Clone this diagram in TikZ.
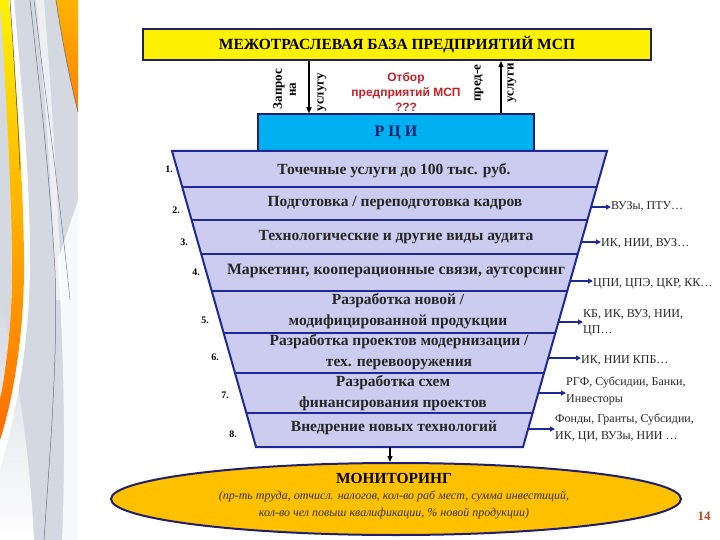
\documentclass[tikz,border=0pt]{standalone}
\usepackage{fontspec}
\setmainfont{Liberation Serif}
\newfontfamily\arialf{Liberation Sans}
\usetikzlibrary{arrows.meta,calc,shapes.geometric}
\definecolor{navy}{RGB}{32,30,110}
\definecolor{fnavy}{RGB}{30,40,150}
\definecolor{lav}{RGB}{204,204,240}
\definecolor{rciblue}{RGB}{0,176,240}
\definecolor{monor}{RGB}{255,192,0}
\definecolor{redt}{RGB}{200,30,40}
\definecolor{pgnum}{RGB}{185,75,30}
\definecolor{stripgray}{RGB}{212,216,224}
\definecolor{stripdark}{RGB}{110,115,125}
\tikzset{
  boxyellow/.style={draw=navy,line width=2pt,fill=yellow,minimum width=508pt,minimum height=31pt,inner sep=0pt},
  boxrci/.style={draw=navy,line width=1.5pt,fill=rciblue,minimum width=276pt,minimum height=37pt,inner sep=0pt},
  funnel/.style={draw=fnavy,line width=2pt,fill=lav},
  sep/.style={draw=fnavy,line width=2pt},
  rowtxt/.style={font=\fontsize{15.5}{20.5}\selectfont\bfseries,align=center,inner sep=0pt,text=black!85},
  numtxt/.style={font=\fontsize{10}{12}\selectfont\bfseries,inner sep=0pt},
  rlbl/.style={font=\fontsize{12}{16.5}\selectfont,anchor=west,align=left,inner sep=0pt,text=black!85},
  rarr/.style={draw=fnavy,line width=1.5pt,-{Triangle[length=5pt,width=5pt]}},
  varr/.style={draw=black,line width=1.2pt,-{Triangle[length=6pt,width=5pt]}},
  rot/.style={rotate=90,font=\fontsize{13}{14}\selectfont\bfseries,inner sep=0pt},
}
\begin{document}
\begin{tikzpicture}[x=1pt,y=-1pt]
\useasboundingbox (0,0) rectangle (720,540);
\fill[white] (0,0) rectangle (720,540);
% decorative strip
\fill[stripgray] (0,0) rectangle (78,540);
\shade[top color=stripgray, bottom color=white] (0,300) .. controls (20,380) and (30,460) .. (34,540) -- (0,540) -- cycle;
\fill[white,opacity=0.85] (58,260) .. controls (64,360) and (66,450) .. (62,540) -- (78,540) -- (78,200) -- cycle;
\fill[white,opacity=0.6] (36,0) .. controls (46,100) and (52,200) .. (56,300) -- (62,300) .. controls (58,200) and (52,100) .. (44,0) -- cycle;
\fill[white] (0,0) .. controls (8,90) and (12,180) .. (12,260) .. controls (12,330) and (6,380) .. (0,420) -- (0,470) .. controls (20,400) and (30,330) .. (30,260) .. controls (30,180) and (22,90) .. (14,0) -- cycle;
\shade[top color=yellow!90!orange, bottom color=orange!85!red] (0,0) .. controls (6,90) and (11,180) .. (12,255) .. controls (13,320) and (6,370) .. (0,400) -- (0,440) .. controls (16,390) and (25,320) .. (24,255) .. controls (23,180) and (17,90) .. (9,0) -- cycle;
\shade[top color=orange!60!yellow, bottom color=orange] (56,0) .. controls (62,40) and (70,80) .. (78,112) -- (78,0) -- cycle;
\draw[stripdark,line width=0.6pt] (56,0) .. controls (62,40) and (70,80) .. (78,112);
\draw[stripdark,line width=0.5pt] (30,0) .. controls (40,90) and (50,180) .. (55,270) .. controls (58,360) and (50,450) .. (44,540);
\draw[stripdark,line width=0.4pt] (34,0) .. controls (46,100) and (60,200) .. (70,300);
\draw[black!70,line width=0.5pt] (10,0) .. controls (14,60) and (18,120) .. (20,170);

% top box
\node[boxyellow] (base) at (397,44.5) {\fontsize{15.5}{17}\selectfont\bfseries МЕЖОТРАСЛЕВАЯ  БАЗА ПРЕДПРИЯТИЙ МСП};
% RCI
\node[boxrci] (rci) at (396,132.5) {\fontsize{16}{18}\selectfont\bfseries\color{navy} Р Ц И};
% vertical arrows
\coordinate (dA) at (309,0);
\coordinate (uA) at (501,0);
\draw[varr] (dA |- base.south) -- (dA |- rci.north);
\draw[varr] (uA |- rci.north) -- (uA |- base.south);
\node[rot] (zap) at (279,89) {Запрос};
\node[rot] (na) at (293,90) {на};
\node[rot] (usl1) at (322,92) {услугу};
\node[rot] (pred) at (479,83) {пред-е};
\node[rot] (usl2) at (512,83) {услуги};
\node[font=\arialf\fontsize{12}{15}\selectfont\bfseries,text=redt,align=center,inner sep=0pt] (otb) at (406,92) {Отбор\\предприятий МСП\\???};

% funnel
\coordinate (ftl) at (172,151);
\coordinate (ftr) at (607,151);
\coordinate (fbr) at (523,447);
\coordinate (fbl) at (256,447);
\path[funnel] (ftl) -- (ftr) -- (fbr) -- (fbl) -- cycle;
\draw[sep] (182.2,187) -- (596.8,187);
\draw[sep] (191.6,220) -- (587.4,220);
\draw[sep] (201.2,254) -- (577.8,254);
\draw[sep] (211.7,291) -- (567.3,291);
\draw[sep] (223.6,333) -- (555.4,333);
\draw[sep] (235.0,373) -- (544.0,373);
\draw[sep] (246.4,413) -- (532.6,413);

\node[rowtxt] (t1) at (394,171) {Точечные услуги до 100 тыс. руб.};
\node[rowtxt] (t2) at (395,203) {Подготовка / переподготовка кадров};
\node[rowtxt] (t3) at (396,237) {Технологические и другие виды аудита};
\node[rowtxt,font=\fontsize{15.8}{20.5}\selectfont\bfseries] (t4) at (396,271) {Маркетинг, кооперационные связи, аутсорсинг};
\node[rowtxt] (t5) at (398,311) {Разработка новой /\\модифицированной продукции};
\node[rowtxt] (t6) at (399,352) {Разработка проектов модернизации /\\тех. перевооружения};
\node[rowtxt] (t7) at (393,393) {Разработка схем\\финансирования проектов};
\node[rowtxt] (t8) at (394,428) {Внедрение новых технологий};

\node[numtxt] (n1) at (169,169) {1.};
\node[numtxt] (n2) at (176,210) {2.};
\node[numtxt] (n3) at (184,242) {3.};
\node[numtxt] (n4) at (196,272) {4.};
\node[numtxt] (n5) at (205,320) {5.};
\node[numtxt] (n6) at (215,357) {6.};
\node[numtxt] (n7) at (225,395) {7.};
\node[numtxt] (n8) at (233,434) {8.};

% right labels
\coordinate (e2) at (591.3,207);
\coordinate (e3) at (581.2,242);
\coordinate (e4) at (570.6,281);
\coordinate (e5) at (558.5,322);
\coordinate (e6) at (548.2,358);
\coordinate (e7) at (538.6,393);
\coordinate (e8) at (528.1,429);
\node[rlbl] (r2) at (611,206) {ВУЗы, ПТУ…};
\node[rlbl] (r3) at (601,243) {ИК, НИИ, ВУЗ…};
\node[rlbl] (r4) at (593,284) {ЦПИ, ЦПЭ, ЦКР, КК…};
\node[rlbl] (r5) at (583,323) {КБ, ИК, ВУЗ, НИИ,\\ЦП…};
\node[rlbl] (r6) at (581,360) {ИК, НИИ КПБ…};
\node[rlbl] (r7) at (566,391) {РГФ, Субсидии, Банки,\\Инвесторы};
\node[rlbl] (r8) at (555,428) {Фонды, Гранты, Субсидии,\\ИК, ЦИ, ВУЗы, НИИ …};
\draw[rarr] (e2) -- (e2 -| r2.west);
\draw[rarr] (e3) -- (e3 -| r3.west);
\draw[rarr] (e4) -- (e4 -| r4.west);
\draw[rarr] (e5) -- (e5 -| r5.west);
\draw[rarr] (e6) -- (e6 -| r6.west);
\draw[rarr] (e7) -- (e7 -| r7.west);
\draw[rarr] (e8) -- (e8 -| r8.west);

% monitoring
\node[ellipse,draw=navy,line width=2pt,fill=monor,minimum width=570pt,minimum height=72pt,inner sep=0pt] (mon) at (396,499) {};
\coordinate (fb) at (390,447);
\draw[varr] (fb) -- (fb |- mon.north);
\node[font=\fontsize{15.4}{17}\selectfont\bfseries,inner sep=0pt] (mt) at (394,478) {МОНИТОРИНГ};
\node[font=\fontsize{12}{17}\selectfont\itshape,align=center,inner sep=0pt,text=black!80] (ml) at (394,505) {(пр-ть труда, отчисл. налогов, кол-во раб мест, сумма инвестиций,\\кол-во чел повыш квалификации, \% новой продукции)};
\node[font=\fontsize{13}{14}\selectfont\bfseries,text=pgnum,inner sep=0pt] (pg) at (704,516) {14};
\end{tikzpicture}
\end{document}
